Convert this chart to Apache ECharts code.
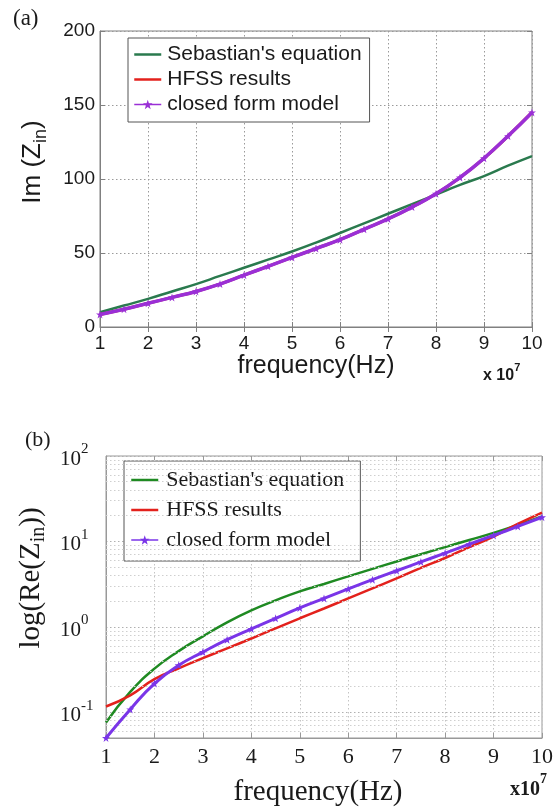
<!DOCTYPE html>
<html><head><meta charset="utf-8">
<script src="https://cdn.jsdelivr.net/npm/echarts@6/dist/echarts.min.js"></script>
<style>html,body{margin:0;padding:0;background:#fff}#c{width:556px;height:812px}</style>
</head><body><div id="c"></div>
<script>
// ---- data (frequency in units of 1e7 Hz) ----
const freq = [1,1.5,2,2.5,3,3.5,4,4.5,5,5.5,6,6.5,7,7.5,8,8.5,9,9.5,10];
// (a) Im(Zin)
const imSebastian  = [10,14.5,19,24,29,34.5,40,45.5,51,57,63.5,70,76.5,83,89.5,96,102,109,115.5];
const imHFSS       = [8.5,12,16,20,24,29,35,41,47,53,59,66,73,81,90,101,114,129,145];
const imClosedForm = [8.5,12,16,20,24,29,35,41,47,53,59,66,73,81,90,101,114,129,145];
// (b) Re(Zin), log scale
const reSebastian  = [0.076,0.173,0.324,0.52,0.774,1.13,1.56,2.04,2.6,3.18,3.9,4.77,5.83,7.08,8.58,10.4,12.6,15.6,19.6];
const reHFSS       = [0.117,0.158,0.244,0.327,0.43,0.56,0.73,0.96,1.26,1.64,2.15,2.82,3.69,4.9,6.4,8.6,11.4,16,21.8];
const reClosedForm = [0.05,0.108,0.217,0.355,0.507,0.708,0.947,1.257,1.667,2.15,2.78,3.57,4.54,5.76,7.3,9.3,11.75,14.97,19.2];
// tick values
const imYTicks = [0,50,100,150,200];
const reMinorGrid = [0.06,0.07,0.08,0.09,0.2,0.3,0.4,0.5,0.6,0.7,0.8,0.9,2,3,4,5,6,7,8,9,20,30,40,50,60,70,80,90];
const seriesNames = ["Sebastian's equation","HFSS results","closed form model"];

const SANS = 'Liberation Sans, Arial, sans-serif';
const SERIF = 'Liberation Serif, Times New Roman, serif';
const TXT = '#1a1a1a';
const AX = '#808080';
const pairs = ys => freq.map((f,i)=>[f, ys[i]]);
const star = 'path://M50,0 L61.8,35.1 98.9,35.1 69.1,56.7 80.3,91.9 50,70.2 19.7,91.9 30.9,56.7 1.1,35.1 38.2,35.1 Z';

const cTopGreen = '#2a7a4e', cBotGreen = '#1f8a22', cRed = '#e3211c', cTopPurple = '#9a2fd6', cBotPurple = '#7a35e8';

const chart = echarts.init(document.getElementById('c'));
const dotted = (c) => ({show:true, lineStyle:{type:[1.5,2.5], color:c, width:1}});
const noSym = {color:'rgba(0,0,0,0)', borderWidth:0};

chart.setOption({
  animation:false,
  backgroundColor:'#fff',
  title:[
    {text:'(a)', left:13, top:7, padding:0, textStyle:{fontFamily:SERIF, fontSize:23, fontWeight:'normal', color:TXT}},
    {text:'(b)', left:25, top:429, padding:0, textStyle:{fontFamily:SERIF, fontSize:22, fontWeight:'normal', color:TXT}},
    {text:'{a|x 10}{s|7}', left:483, top:362, padding:0, textStyle:{rich:{
      a:{fontFamily:SANS, fontSize:16, color:TXT, lineHeight:22, verticalAlign:'bottom'},
      s:{fontFamily:SANS, fontSize:11, color:TXT, verticalAlign:'top'}}}},
    {text:'{a|x10}{s|7}', left:510, top:772, padding:0, textStyle:{rich:{
      a:{fontFamily:SERIF, fontSize:20, color:TXT, lineHeight:28, verticalAlign:'bottom'},
      s:{fontFamily:SERIF, fontSize:14, color:TXT, verticalAlign:'top'}}}}
  ],
  legend:[
    {orient:'vertical', left:128, top:38, padding:[6,8,7,5], itemGap:4, itemWidth:27, itemHeight:12,
     backgroundColor:'#fff', borderColor:'#555', borderWidth:1, borderRadius:0,
     textStyle:{fontFamily:SANS, fontSize:21, color:TXT, padding:[0,0,0,1]},
     data:[
      {name:seriesNames[0], itemStyle:noSym, lineStyle:{color:cTopGreen, width:2.5}},
      {name:seriesNames[1], itemStyle:noSym, lineStyle:{color:cRed, width:2.5}},
      {name:seriesNames[2], itemStyle:{color:cTopPurple}, lineStyle:{color:cTopPurple, width:1.5}}
     ]},
    {orient:'vertical', left:124, top:461, padding:[8,16,10,6], itemGap:8, itemWidth:27, itemHeight:12,
     backgroundColor:'#fff', borderColor:'#555', borderWidth:1, borderRadius:0,
     textStyle:{fontFamily:SERIF, fontSize:22, color:TXT, padding:[0,0,0,3]},
     data:[
      {name:seriesNames[0], itemStyle:noSym, lineStyle:{color:cBotGreen, width:2.5}},
      {name:seriesNames[1], itemStyle:noSym, lineStyle:{color:cRed, width:2.5}},
      {name:seriesNames[2], itemStyle:{color:cBotPurple}, lineStyle:{color:cBotPurple, width:1.5}}
     ]}
  ],
  grid:[
    {left:100, top:31, width:432, height:296, show:true, borderColor:AX, borderWidth:1, backgroundColor:'transparent'},
    {left:106, top:456, width:436, height:282, show:true, borderColor:'#999', borderWidth:1, backgroundColor:'transparent'}
  ],
  xAxis:[
    {gridIndex:0, type:'value', position:'bottom', min:1, max:10, interval:1,
     axisLine:{show:true, lineStyle:{color:AX}}, axisTick:{inside:true, length:5, lineStyle:{color:AX}},
     axisLabel:{fontFamily:SANS, fontSize:19, color:TXT, margin:7},
     splitLine:dotted('#9a9a9a'),
     name:'frequency(Hz)', nameLocation:'middle', nameGap:27,
     nameTextStyle:{fontFamily:SANS, fontSize:25, color:TXT}},
    {gridIndex:0, type:'value', position:'top', min:1, max:10, interval:1,
     axisLine:{show:false}, axisTick:{inside:true, length:5, lineStyle:{color:AX}},
     axisLabel:{show:false}, splitLine:{show:false}},
    {gridIndex:1, type:'value', position:'bottom', min:1, max:10, interval:1,
     axisLine:{show:true, lineStyle:{color:'#999'}}, axisTick:{inside:true, length:5, lineStyle:{color:'#999'}},
     axisLabel:{fontFamily:SERIF, fontSize:22, color:TXT, margin:8},
     splitLine:dotted('#c4c4c4'),
     name:'frequency(Hz)', nameLocation:'middle', nameGap:40, nameTextStyle:{fontFamily:SERIF, fontSize:29, color:TXT, padding:[0,12,0,0]}},
    {gridIndex:1, type:'value', position:'top', min:1, max:10, interval:1,
     axisLine:{show:false}, axisTick:{inside:true, length:5, lineStyle:{color:'#999'}},
     axisLabel:{show:false}, splitLine:{show:false}}
  ],
  yAxis:[
    {gridIndex:0, type:'value', position:'left', min:imYTicks[0], max:imYTicks[imYTicks.length-1], interval:imYTicks[1]-imYTicks[0],
     axisLine:{show:true, lineStyle:{color:AX}}, axisTick:{inside:true, length:5, lineStyle:{color:AX}},
     axisLabel:{fontFamily:SANS, fontSize:19, color:TXT, margin:5},
     splitLine:dotted('#9a9a9a'),
     name:'{a|Im (Z}{s|in}{a|)}', nameLocation:'middle', nameGap:50,
     nameTextStyle:{padding:[0,0,0,34], rich:{
       a:{fontFamily:SANS, fontSize:26, color:TXT, lineHeight:34, verticalAlign:'middle'},
       s:{fontFamily:SANS, fontSize:18, color:TXT, verticalAlign:'bottom'}}}},
    {gridIndex:0, type:'value', position:'right', min:imYTicks[0], max:imYTicks[imYTicks.length-1], interval:imYTicks[1]-imYTicks[0],
     axisLine:{show:false}, axisTick:{inside:true, length:5, lineStyle:{color:AX}},
     axisLabel:{show:false}, splitLine:{show:false}},
    {gridIndex:1, type:'log', logBase:10, position:'left', min:0.05, max:100,
     axisLine:{show:true, lineStyle:{color:'#999'}}, axisTick:{show:false},
     axisLabel:{align:'left', margin:46, color:TXT,
       formatter:(v)=>{const e=Math.log10(v); const r=Math.round(e); return Math.abs(e-r)<1e-6 ? '{b|10}{s|'+r+'}' : '';},
       rich:{b:{fontFamily:SERIF, fontSize:21, color:TXT, lineHeight:28, verticalAlign:'bottom'},
             s:{fontFamily:SERIF, fontSize:15, color:TXT, verticalAlign:'top'}}},
     splitLine:dotted('#b0b0b0'),
     name:'{a|log(Re(Z}{s|in}{a|))}', nameLocation:'middle', nameGap:54,
     nameTextStyle:{padding:[0,0,0,38], rich:{
       a:{fontFamily:SERIF, fontSize:29, color:TXT, lineHeight:36, verticalAlign:'middle'},
       s:{fontFamily:SERIF, fontSize:20, color:TXT, verticalAlign:'bottom'}}}}
  ],
  series:[
    {type:'line', xAxisIndex:2, yAxisIndex:2, data:[], silent:true, z:1,
     markLine:{silent:true, symbol:'none', animation:false, label:{show:false},
       lineStyle:{type:[1.5,2.5], color:'#cfcfcf', width:1},
       emphasis:{disabled:true},
       data:reMinorGrid.map(v=>({yAxis:v}))}},
    {name:seriesNames[0], type:'line', xAxisIndex:0, yAxisIndex:0, data:pairs(imSebastian), smooth:true,
     showSymbol:false, symbol:'none', lineStyle:{color:cTopGreen, width:2.5}, itemStyle:{color:cTopGreen}, z:3},
    {name:seriesNames[1], type:'line', xAxisIndex:0, yAxisIndex:0, data:pairs(imHFSS), smooth:true,
     showSymbol:false, symbol:'none', lineStyle:{color:cRed, width:3}, itemStyle:{color:cRed}, z:4},
    {name:seriesNames[2], type:'line', xAxisIndex:0, yAxisIndex:0, data:pairs(imClosedForm), smooth:true,
     symbol:star, symbolSize:8, showSymbol:true, lineStyle:{color:cTopPurple, width:3.5}, itemStyle:{color:cTopPurple}, z:5},
    {name:seriesNames[0], type:'line', xAxisIndex:2, yAxisIndex:2, data:pairs(reSebastian), smooth:true,
     showSymbol:false, symbol:'none', lineStyle:{color:cBotGreen, width:2.5}, itemStyle:{color:cBotGreen}, z:3},
    {name:seriesNames[1], type:'line', xAxisIndex:2, yAxisIndex:2, data:pairs(reHFSS), smooth:true,
     showSymbol:false, symbol:'none', lineStyle:{color:cRed, width:2.5}, itemStyle:{color:cRed}, z:4},
    {name:seriesNames[2], type:'line', xAxisIndex:2, yAxisIndex:2, data:pairs(reClosedForm), smooth:true,
     symbol:star, symbolSize:8, showSymbol:true, lineStyle:{color:cBotPurple, width:3}, itemStyle:{color:cBotPurple}, z:5}
  ]
});
</script></body></html>
